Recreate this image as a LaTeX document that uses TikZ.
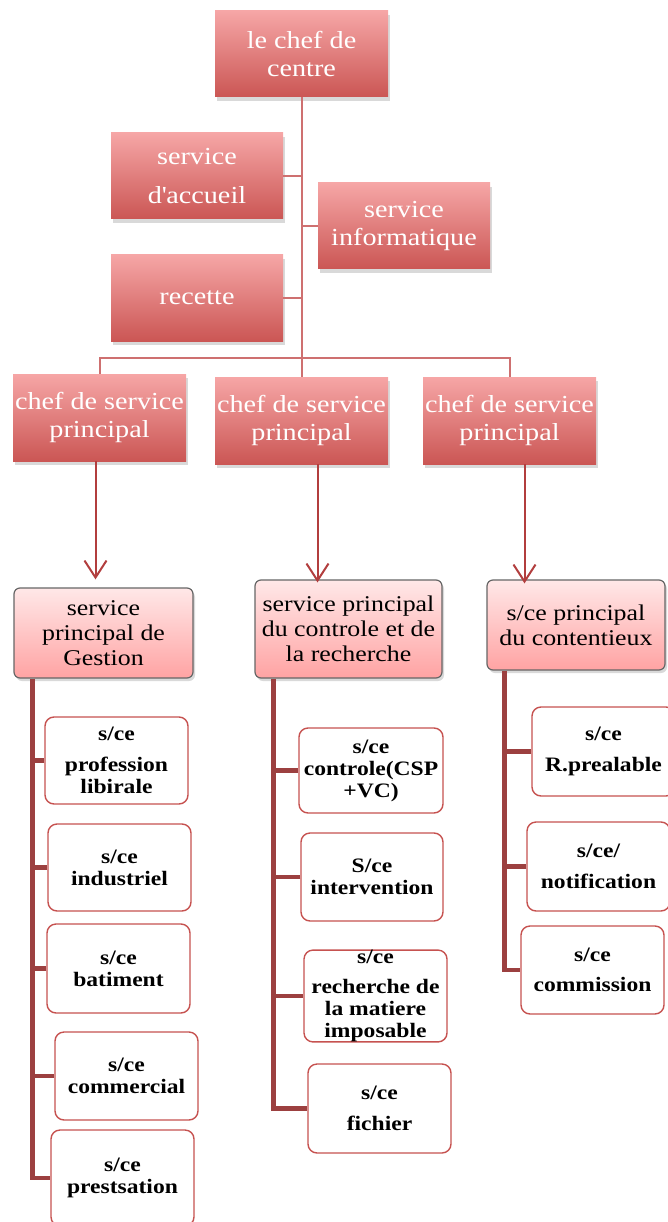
\documentclass[tikz,border=0pt]{standalone}
\usepackage{fontspec}
\setmainfont{Liberation Serif}[FakeStretch=1.15]
\usetikzlibrary{positioning,arrows.meta,shadows}
\definecolor{chieftop}{RGB}{246,166,166}
\definecolor{chiefbot}{RGB}{203,86,84}
\definecolor{headtop}{RGB}{255,232,232}
\definecolor{headbot}{RGB}{255,163,163}
\definecolor{linkred}{RGB}{206,112,112}
\definecolor{arrowred}{RGB}{178,62,62}
\definecolor{trunkred}{RGB}{156,64,64}
\definecolor{subred}{RGB}{198,82,80}
\newcommand{\straightq}{\XeTeXglyph\XeTeXglyphindex "quotesingle"\relax}

\begin{document}
\begin{tikzpicture}[
    x=1pt, y=-1pt,
    chief/.style={rectangle, minimum width=173pt, minimum height=86pt, inner sep=0pt, top color=chieftop, bottom color=chiefbot, text=white, align=center, font=\fontsize{24.5}{28}\selectfont, drop shadow={shadow xshift=2pt, shadow yshift=-4pt, opacity=0.3}},
    head/.style={rectangle, draw=gray!80!black, line width=1.2pt, rounded corners=6pt, top color=headtop, bottom color=headbot, inner sep=0pt, align=center, font=\fontsize{22.5}{25}\selectfont, drop shadow={shadow xshift=2pt, shadow yshift=-3pt, opacity=0.3}},
    subbox/.style={rectangle, draw=subred, line width=1.4pt, rounded corners=9pt, fill=white, minimum width=143pt, minimum height=88pt, inner sep=0pt, align=center, font=\fontsize{20.5}{22}\selectfont\bfseries},
    link/.style={draw=linkred, line width=2pt},
    arrow/.style={draw=arrowred, line width=2pt, -{Straight Barb[length=17pt, width=22pt, line width=2pt]}},
    trunk/.style={draw=trunkred, line width=4.5pt}
]
    \useasboundingbox (0,0) rectangle (667,1222);

    % Direction
    \node [chief] (chef) at (301.5,54) {le chef de\\centre};
    \node [chief, minimum width=172pt] (accueil) at (197,176) {service\\[11pt]d\straightq accueil};
    \node [chief, minimum width=172pt] (info) at (404,226) {service\\informatique};
    \node [chief, minimum width=172pt] (recette) at (197,298) {recette};

    % Chefs de service
    \node [chief, minimum height=87pt] (chefA) at (99.5,417.5) {chef de service\\principal};
    \node [chief, minimum height=87pt] (chefB) at (301.5,420.5) {chef de service\\principal};
    \node [chief, minimum height=87pt] (chefC) at (509.5,420.5) {chef de service\\principal};

    % Services principaux
    \node [head, minimum width=179pt, minimum height=90pt] (gestion) at (103.5,633) {service\\principal de\\Gestion};
    \node [head, minimum width=187pt, minimum height=98pt] (dcontrole) at (348.5,629) {service principal\\du controle et de\\la recherche};
    \node [head, minimum width=178pt, minimum height=90pt] (contentieux) at (576,625) {s/ce principal\\du contentieux};

    % Sous-services gestion
    \node [subbox, minimum height=87pt] (profession) at (116.5,760.5) {s/ce\\[9pt]profession\\libirale};
    \node [subbox, minimum height=87pt] (industriel) at (119.5,867.5) {s/ce\\industriel};
    \node [subbox, minimum height=89pt] (batiment) at (118.5,968.5) {s/ce\\batiment};
    \node [subbox] (commercial) at (126.5,1076) {s/ce\\commercial};
    \node [subbox, minimum height=96pt] (prestsation) at (122.5,1178) {s/ce\\prestsation};

    % Sous-services controle
    \node [subbox, minimum width=144pt, minimum height=85pt] (csp) at (371,770.5) {s/ce\\controle(CSP\\+VC)};
    \node [subbox, minimum width=142pt] (intervention) at (372,877) {S/ce\\intervention};
    \node [subbox] (recherche) at (375.5,996) {s/ce\\[8pt]recherche de\\la matiere\\imposable};
    \node [subbox, minimum height=89pt] (fichier) at (379.5,1108.5) {s/ce\\[9pt]fichier};

    % Sous-services contentieux
    \node [subbox, minimum height=89pt] (prealable) at (603.5,751.5) {s/ce\\[9pt]R.prealable};
    \node [subbox, minimum height=89pt] (notification) at (598.5,866.5) {s/ce/\\[9pt]notification};
    \node [subbox] (commission) at (592.5,970) {s/ce\\[8pt]commission};

    % Liaisons
    \coordinate (bus) at (301.5,358);
    \draw [link] (chef) -- (chefB);
    \draw [link] (accueil.east) -- (accueil.east -| chef.south);
    \draw [link] (info.west) -- (info.west -| chef.south);
    \draw [link] (recette.east) -- (recette.east -| chef.south);
    \draw [link] (chefA.north) -- (chefA.north |- bus) -- (chefC.north |- bus) -- (chefC.north);

    % Fleches
    \draw [arrow, shorten >=8pt] ([xshift=-4pt]chefA.south) -- ([xshift=-4pt]chefA.south |- gestion.north);
    \draw [arrow, shorten >=-3pt] ([xshift=16pt]chefB.south) -- ([xshift=16pt]chefB.south |- dcontrole.north);
    \draw [arrow, shorten >=-4pt] ([xshift=15pt]chefC.south) -- ([xshift=15pt]chefC.south |- contentieux.north);

    % Arborescences
    \coordinate (gtrunk) at ([xshift=19pt]gestion.south west);
    \coordinate (ctrunk) at ([xshift=19pt]dcontrole.south west);
    \coordinate (ptrunk) at ([xshift=18pt]contentieux.south west);
    \draw [trunk] (gtrunk) |- (prestsation.west);
    \foreach \n in {profession,industriel,batiment,commercial}
        \draw [trunk] (\n.west) -- (\n.west -| gtrunk);
    \draw [trunk] (ctrunk) |- (fichier.west);
    \foreach \n in {csp,intervention,recherche}
        \draw [trunk] (\n.west) -- (\n.west -| ctrunk);
    \draw [trunk] (ptrunk) |- (commission.west);
    \foreach \n in {prealable,notification}
        \draw [trunk] (\n.west) -- (\n.west -| ptrunk);
\end{tikzpicture}
\end{document}
